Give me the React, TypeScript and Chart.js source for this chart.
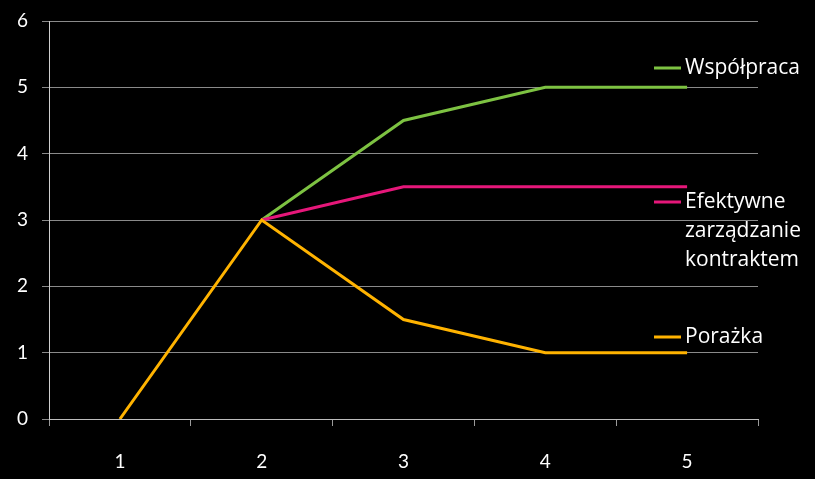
import React, { useEffect, useRef } from "react";
import { Chart, registerables } from "chart.js";

Chart.register(...registerables);

const categories = ["1", "2", "3", "4", "5"];
const seriesNames = ["Współpraca", "Efektywne zarządzanie kontraktem", "Porażka"];
const wspolpraca = [null, 3, 4.5, 5, 5];
const efektywne = [null, 3, 3.5, 3.5, 3.5];
const porazka = [0, 3, 1.5, 1, 1];
const legendLines = [["Współpraca"], ["Efektywne", "zarządzanie", "kontraktem"], ["Porażka"]];
const colors = ["#7dc242", "#e6177a", "#ffb300"];

const FONT = "Lato, 'Open Sans', sans-serif";
const LEGEND_FONT = "'Open Sans', sans-serif";

const legendPlugin = {
  id: "sideLegend",
  afterDraw(chart: any) {
    const ctx = chart.ctx;
    const ys = [68, 202, 337];
    ctx.save();
    legendLines.forEach((lines, i) => {
      const y = ys[i];
      ctx.strokeStyle = colors[i];
      ctx.lineWidth = 3;
      ctx.beginPath();
      ctx.moveTo(654, y);
      ctx.lineTo(681, y);
      ctx.stroke();
      ctx.fillStyle = "#ffffff";
      ctx.font = `21px ${LEGEND_FONT}`;
      ctx.textAlign = "left";
      ctx.textBaseline = "middle";
      lines.forEach((t, j) => {
        ctx.fillText(t, 685, y + j * 29);
      });
    });
    ctx.restore();
  },
};

export default function App() {
  const ref = useRef<HTMLCanvasElement | null>(null);
  useEffect(() => {
    if (!ref.current) return;
    const chart = new Chart(ref.current, {
      type: "line",
      data: {
        labels: categories,
        datasets: [
          { label: seriesNames[0], data: wspolpraca, borderColor: colors[0], borderWidth: 3, pointRadius: 0, order: 2, tension: 0 },
          { label: seriesNames[1], data: efektywne, borderColor: colors[1], borderWidth: 3, pointRadius: 0, order: 1, tension: 0 },
          { label: seriesNames[2], data: porazka, borderColor: colors[2], borderWidth: 3, pointRadius: 0, order: 0, tension: 0 },
        ],
      },
      options: {
        animation: false,
        responsive: false,
        maintainAspectRatio: false,
        layout: { padding: { top: 21, right: 57, left: 0, bottom: 0 } },
        plugins: { legend: { display: false }, tooltip: { enabled: false } },
        scales: {
          x: {
            offset: true,
            grid: {
              display: true,
              offset: true,
              drawOnChartArea: false,
              drawTicks: true,
              tickLength: 7,
              color: "#9a9a9a",
            },
            border: { display: true, color: "#bdbdbd" },
            ticks: { color: "#ffffff", font: { family: FONT, size: 19 }, padding: 24 },
            afterFit(scale: any) {
              scale.height = 60;
              scale.paddingLeft = 0;
              scale.paddingRight = 0;
            },
          },
          y: {
            min: 0,
            max: 6,
            ticks: { stepSize: 1, color: "#ffffff", font: { family: FONT, size: 19 }, padding: 14 },
            grid: { color: "#8a8a8a", tickLength: 7, lineWidth: 1 },
            border: { display: true, color: "#cfcfcf" },
            afterFit(scale: any) {
              scale.width = 49;
              scale.paddingTop = 0;
              scale.paddingBottom = 0;
            },
          },
        },
      },
      plugins: [legendPlugin],
    });
    return () => chart.destroy();
  }, []);
  return (
    <div style={{ position: "fixed", left: 0, top: 0, width: 815, height: 479, background: "#000" }}>
      <canvas ref={ref} width={815} height={479} style={{ width: 815, height: 479, display: "block" }} />
    </div>
  );
}
